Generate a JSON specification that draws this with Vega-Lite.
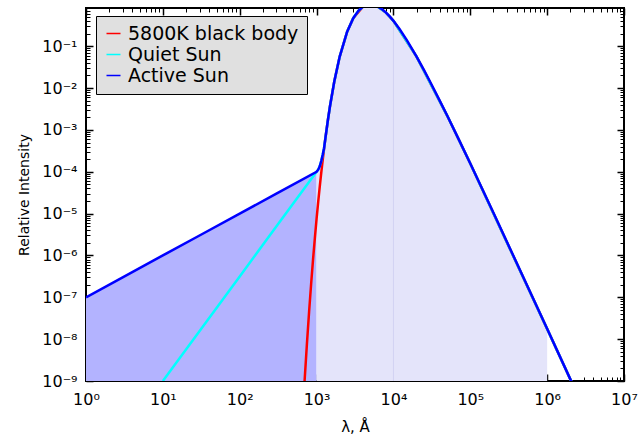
{
  "$schema": "https://vega.github.io/schema/vega-lite/v6.json",
  "autosize": "none",
  "width": 538,
  "height": 373,
  "padding": {"left": 86, "top": 8, "right": 14, "bottom": 57},
  "background": "#ffffff",
  "config": {
    "view": {"stroke": "#000000", "strokeWidth": 2},
    "axis": {
      "domain": false,
      "grid": false,
      "tickColor": "#000000",
      "labelFont": "DejaVu Sans",
      "labelFontSize": 15,
      "labelColor": "#000000",
      "titleFont": "DejaVu Sans",
      "titleFontSize": 14,
      "titleColor": "#000000",
      "titleFontWeight": "normal",
      "labelOverlap": false,
      "labelFlush": false
    },
    "legend": {"labelFont": "DejaVu Sans", "labelColor": "#000000"}
  },
  "datasets": {
    "spec": [
      {"series": "Active Sun", "lambda": 1, "intensity": 1e-7},
      {"series": "Active Sun", "lambda": 3, "intensity": 3e-7},
      {"series": "Active Sun", "lambda": 10, "intensity": 1e-6},
      {"series": "Active Sun", "lambda": 30, "intensity": 3e-6},
      {"series": "Active Sun", "lambda": 100, "intensity": 1e-5},
      {"series": "Active Sun", "lambda": 300, "intensity": 3e-5},
      {"series": "Active Sun", "lambda": 1000, "intensity": 1e-4},
      {"series": "Active Sun", "lambda": 1050, "intensity": 1.12e-4},
      {"series": "Active Sun", "lambda": 1100, "intensity": 1.35e-4},
      {"series": "Active Sun", "lambda": 1150, "intensity": 1.8e-4},
      {"series": "Active Sun", "lambda": 1200, "intensity": 2.5e-4},
      {"series": "Active Sun", "lambda": 1250, "intensity": 3.6e-4},
      {"series": "Active Sun", "lambda": 1300, "intensity": 6.16e-4},
      {"series": "Active Sun", "lambda": 1400, "intensity": 1.661e-3},
      {"series": "Active Sun", "lambda": 1500, "intensity": 3.833e-3},
      {"series": "Active Sun", "lambda": 1700, "intensity": 1.435e-2},
      {"series": "Active Sun", "lambda": 2000, "intensity": 0.0568},
      {"series": "Active Sun", "lambda": 2500, "intensity": 0.2224},
      {"series": "Active Sun", "lambda": 3000, "intensity": 0.4673},
      {"series": "Active Sun", "lambda": 3500, "intensity": 0.705},
      {"series": "Active Sun", "lambda": 4000, "intensity": 0.878},
      {"series": "Active Sun", "lambda": 4500, "intensity": 0.9725},
      {"series": "Active Sun", "lambda": 5000, "intensity": 1.0},
      {"series": "Active Sun", "lambda": 5500, "intensity": 0.978},
      {"series": "Active Sun", "lambda": 6000, "intensity": 0.9268},
      {"series": "Active Sun", "lambda": 7000, "intensity": 0.7843},
      {"series": "Active Sun", "lambda": 8000, "intensity": 0.637},
      {"series": "Active Sun", "lambda": 9000, "intensity": 0.5088},
      {"series": "Active Sun", "lambda": 10000, "intensity": 0.4045},
      {"series": "Active Sun", "lambda": 12000, "intensity": 0.2578},
      {"series": "Active Sun", "lambda": 15000, "intensity": 0.138},
      {"series": "Active Sun", "lambda": 20000, "intensity": 0.05634},
      {"series": "Active Sun", "lambda": 25000, "intensity": 0.02672},
      {"series": "Active Sun", "lambda": 30000, "intensity": 0.01417},
      {"series": "Active Sun", "lambda": 40000, "intensity": 0.005034},
      {"series": "Active Sun", "lambda": 50000, "intensity": 0.002206},
      {"series": "Active Sun", "lambda": 70000, "intensity": 6.196e-4},
      {"series": "Active Sun", "lambda": 100000, "intensity": 1.573e-4},
      {"series": "Active Sun", "lambda": 200000, "intensity": 1.048e-5},
      {"series": "Active Sun", "lambda": 500000, "intensity": 2.786e-7},
      {"series": "Active Sun", "lambda": 1000000, "intensity": 1.763e-8},
      {"series": "Active Sun", "lambda": 2000000, "intensity": 1.109e-9},
      {"series": "Active Sun", "lambda": 3000000, "intensity": 2.19e-10},

      {"series": "Quiet Sun", "lambda": 10, "intensity": 1e-9},
      {"series": "Quiet Sun", "lambda": 31.6, "intensity": 1.78e-8},
      {"series": "Quiet Sun", "lambda": 100, "intensity": 3.16e-7},
      {"series": "Quiet Sun", "lambda": 316, "intensity": 5.62e-6},
      {"series": "Quiet Sun", "lambda": 1000, "intensity": 1e-4},
      {"series": "Quiet Sun", "lambda": 1050, "intensity": 1.12e-4},
      {"series": "Quiet Sun", "lambda": 1100, "intensity": 1.35e-4},
      {"series": "Quiet Sun", "lambda": 1150, "intensity": 1.8e-4},
      {"series": "Quiet Sun", "lambda": 1200, "intensity": 2.5e-4},
      {"series": "Quiet Sun", "lambda": 1250, "intensity": 3.6e-4},
      {"series": "Quiet Sun", "lambda": 1300, "intensity": 6.16e-4},
      {"series": "Quiet Sun", "lambda": 1400, "intensity": 1.661e-3},
      {"series": "Quiet Sun", "lambda": 1500, "intensity": 3.833e-3},
      {"series": "Quiet Sun", "lambda": 1700, "intensity": 1.435e-2},
      {"series": "Quiet Sun", "lambda": 2000, "intensity": 0.0568},
      {"series": "Quiet Sun", "lambda": 2500, "intensity": 0.2224},
      {"series": "Quiet Sun", "lambda": 3000, "intensity": 0.4673},
      {"series": "Quiet Sun", "lambda": 3500, "intensity": 0.705},
      {"series": "Quiet Sun", "lambda": 4000, "intensity": 0.878},
      {"series": "Quiet Sun", "lambda": 5000, "intensity": 1.0},
      {"series": "Quiet Sun", "lambda": 6000, "intensity": 0.9268},
      {"series": "Quiet Sun", "lambda": 8000, "intensity": 0.637},
      {"series": "Quiet Sun", "lambda": 10000, "intensity": 0.4045},
      {"series": "Quiet Sun", "lambda": 20000, "intensity": 0.05634},
      {"series": "Quiet Sun", "lambda": 50000, "intensity": 0.002206},
      {"series": "Quiet Sun", "lambda": 100000, "intensity": 1.573e-4},
      {"series": "Quiet Sun", "lambda": 1000000, "intensity": 1.763e-8},
      {"series": "Quiet Sun", "lambda": 3000000, "intensity": 2.19e-10},

      {"series": "5800K black body", "lambda": 680, "intensity": 4.37e-10},
      {"series": "5800K black body", "lambda": 700, "intensity": 1.071e-9},
      {"series": "5800K black body", "lambda": 750, "intensity": 8.06e-9},
      {"series": "5800K black body", "lambda": 800, "intensity": 4.61e-8},
      {"series": "5800K black body", "lambda": 850, "intensity": 2.11e-7},
      {"series": "5800K black body", "lambda": 900, "intensity": 8.03e-7},
      {"series": "5800K black body", "lambda": 950, "intensity": 2.61e-6},
      {"series": "5800K black body", "lambda": 1000, "intensity": 7.46e-6},
      {"series": "5800K black body", "lambda": 1050, "intensity": 1.904e-5},
      {"series": "5800K black body", "lambda": 1100, "intensity": 4.417e-5},
      {"series": "5800K black body", "lambda": 1150, "intensity": 9.43e-5},
      {"series": "5800K black body", "lambda": 1200, "intensity": 1.87e-4},
      {"series": "5800K black body", "lambda": 1250, "intensity": 3.47e-4},
      {"series": "5800K black body", "lambda": 1300, "intensity": 6.157e-4},
      {"series": "5800K black body", "lambda": 1400, "intensity": 1.661e-3},
      {"series": "5800K black body", "lambda": 1500, "intensity": 3.833e-3},
      {"series": "5800K black body", "lambda": 1700, "intensity": 1.435e-2},
      {"series": "5800K black body", "lambda": 2000, "intensity": 0.0568},
      {"series": "5800K black body", "lambda": 2500, "intensity": 0.2224},
      {"series": "5800K black body", "lambda": 3000, "intensity": 0.4673},
      {"series": "5800K black body", "lambda": 4000, "intensity": 0.878},
      {"series": "5800K black body", "lambda": 5000, "intensity": 1.0},
      {"series": "5800K black body", "lambda": 6000, "intensity": 0.9268},
      {"series": "5800K black body", "lambda": 8000, "intensity": 0.637},
      {"series": "5800K black body", "lambda": 10000, "intensity": 0.4045},
      {"series": "5800K black body", "lambda": 20000, "intensity": 0.05634},
      {"series": "5800K black body", "lambda": 50000, "intensity": 0.002206},
      {"series": "5800K black body", "lambda": 100000, "intensity": 1.573e-4},
      {"series": "5800K black body", "lambda": 1000000, "intensity": 1.763e-8},
      {"series": "5800K black body", "lambda": 3000000, "intensity": 2.19e-10}
    ],
    "divider": [{"lambda": 10000, "bottom": 1e-9, "top": 0.4045}]
  },
  "data": {"name": "spec"},
  "resolve": {"axis": {"x": "independent", "y": "independent"}},
  "layer": [
    {
      "transform": [{"filter": "datum.series === 'Active Sun' && datum.lambda <= 1000"}],
      "mark": {"type": "area", "color": "#b3b3ff", "opacity": 1, "clip": true},
      "encoding": {
        "x": {
          "field": "lambda", "type": "quantitative",
          "scale": {"type": "log", "domain": [1, 10000000], "nice": false},
          "axis": {
            "orient": "bottom",
            "values": [1, 10, 100, 1000, 10000, 100000, 1000000, 10000000],
            "tickSize": -7, "tickWidth": 1.5, "labelPadding": 17, "labelFontSize": 16,
            "labelExpr": "'10' + ['⁰','¹','²','³','⁴','⁵','⁶','⁷','⁸','⁹'][round(log(datum.value)/LN10)]",
            "title": "λ, Å", "titlePadding": 12, "titleFontSize": 15
          }
        },
        "y": {
          "field": "intensity", "type": "quantitative",
          "scale": {"type": "log", "domain": [1e-9, 0.82], "nice": false},
          "axis": {
            "orient": "left",
            "values": [1e-9, 1e-8, 1e-7, 1e-6, 1e-5, 1e-4, 1e-3, 1e-2, 1e-1],
            "tickSize": -7, "tickWidth": 1.5, "labelPadding": 16, "labelFontSize": 16,
            "labelExpr": "'10⁻' + ['⁰','¹','²','³','⁴','⁵','⁶','⁷','⁸','⁹'][round(-log(datum.value)/LN10)]",
            "title": "Relative Intensity", "titlePadding": 10
          }
        },
        "y2": {"datum": 1e-9}
      }
    },
    {
      "transform": [{"filter": "datum.series === 'Active Sun' && datum.lambda >= 1000 && datum.lambda <= 1000000"}],
      "mark": {"type": "area", "color": "#e4e4fa", "opacity": 1, "clip": true},
      "encoding": {
        "x": {
          "field": "lambda", "type": "quantitative",
          "axis": {
            "orient": "bottom",
            "values": [2,3,4,5,6,7,8,9,20,30,40,50,60,70,80,90,200,300,400,500,600,700,800,900,2000,3000,4000,5000,6000,7000,8000,9000,20000,30000,40000,50000,60000,70000,80000,90000,200000,300000,400000,500000,600000,700000,800000,900000,2000000,3000000,4000000,5000000,6000000,7000000,8000000,9000000],
            "tickSize": -4, "tickWidth": 1, "labels": false, "title": null
          }
        },
        "y": {
          "field": "intensity", "type": "quantitative",
          "axis": {
            "orient": "left",
            "values": [2e-9,3e-9,4e-9,5e-9,6e-9,7e-9,8e-9,9e-9,2e-8,3e-8,4e-8,5e-8,6e-8,7e-8,8e-8,9e-8,2e-7,3e-7,4e-7,5e-7,6e-7,7e-7,8e-7,9e-7,2e-6,3e-6,4e-6,5e-6,6e-6,7e-6,8e-6,9e-6,2e-5,3e-5,4e-5,5e-5,6e-5,7e-5,8e-5,9e-5,2e-4,3e-4,4e-4,5e-4,6e-4,7e-4,8e-4,9e-4,2e-3,3e-3,4e-3,5e-3,6e-3,7e-3,8e-3,9e-3,2e-2,3e-2,4e-2,5e-2,6e-2,7e-2,8e-2,9e-2,0.2,0.3,0.4,0.5,0.6,0.7,0.8],
            "tickSize": -4, "tickWidth": 1, "labels": false, "title": null
          }
        },
        "y2": {"datum": 1e-9}
      }
    },
    {
      "data": {"name": "divider"},
      "mark": {"type": "rule", "color": "#d2d2f2", "strokeWidth": 1},
      "encoding": {
        "x": {"field": "lambda", "type": "quantitative", "axis": null},
        "y": {"field": "bottom", "type": "quantitative", "axis": null},
        "y2": {"field": "top"}
      }
    },
    {
      "transform": [{"filter": "datum.series === '5800K black body'"}],
      "mark": {"type": "line", "strokeWidth": 2.5, "clip": true},
      "encoding": {
        "x": {
          "field": "lambda", "type": "quantitative",
          "axis": {
            "orient": "top",
            "values": [1, 10, 100, 1000, 10000, 100000, 1000000, 10000000],
            "tickSize": -7, "tickWidth": 1.5, "labels": false, "title": null
          }
        },
        "y": {
          "field": "intensity", "type": "quantitative",
          "axis": {
            "orient": "right",
            "values": [1e-9, 1e-8, 1e-7, 1e-6, 1e-5, 1e-4, 1e-3, 1e-2, 1e-1],
            "tickSize": -7, "tickWidth": 1.5, "labels": false, "title": null
          }
        },
        "color": {
          "field": "series", "type": "nominal",
          "scale": {"domain": ["5800K black body", "Quiet Sun", "Active Sun"], "range": ["#ff0000", "#00ffff", "#0000ff"]},
          "legend": {
            "orient": "none", "legendX": 10, "legendY": 8,
            "title": null,
            "fillColor": "#e0e0e0", "strokeColor": "#000000",
            "padding": 8,
            "labelFontSize": 19, "labelOffset": 5, "rowPadding": 1, "labelLimit": 400,
            "symbolType": "stroke", "symbolSize": 196, "symbolStrokeWidth": 1.5
          }
        },
        "order": {"field": "lambda"}
      }
    },
    {
      "transform": [{"filter": "datum.series === 'Quiet Sun'"}],
      "mark": {"type": "line", "strokeWidth": 2.5, "clip": true},
      "encoding": {
        "x": {
          "field": "lambda", "type": "quantitative",
          "axis": {
            "orient": "top",
            "values": [2,3,4,5,6,7,8,9,20,30,40,50,60,70,80,90,200,300,400,500,600,700,800,900,2000,3000,4000,5000,6000,7000,8000,9000,20000,30000,40000,50000,60000,70000,80000,90000,200000,300000,400000,500000,600000,700000,800000,900000,2000000,3000000,4000000,5000000,6000000,7000000,8000000,9000000],
            "tickSize": -4, "tickWidth": 1, "labels": false, "title": null
          }
        },
        "y": {
          "field": "intensity", "type": "quantitative",
          "axis": {
            "orient": "right",
            "values": [2e-9,3e-9,4e-9,5e-9,6e-9,7e-9,8e-9,9e-9,2e-8,3e-8,4e-8,5e-8,6e-8,7e-8,8e-8,9e-8,2e-7,3e-7,4e-7,5e-7,6e-7,7e-7,8e-7,9e-7,2e-6,3e-6,4e-6,5e-6,6e-6,7e-6,8e-6,9e-6,2e-5,3e-5,4e-5,5e-5,6e-5,7e-5,8e-5,9e-5,2e-4,3e-4,4e-4,5e-4,6e-4,7e-4,8e-4,9e-4,2e-3,3e-3,4e-3,5e-3,6e-3,7e-3,8e-3,9e-3,2e-2,3e-2,4e-2,5e-2,6e-2,7e-2,8e-2,9e-2,0.2,0.3,0.4,0.5,0.6,0.7,0.8],
            "tickSize": -4, "tickWidth": 1, "labels": false, "title": null
          }
        },
        "color": {"field": "series", "type": "nominal"},
        "order": {"field": "lambda"}
      }
    },
    {
      "transform": [{"filter": "datum.series === 'Active Sun'"}],
      "mark": {"type": "line", "strokeWidth": 2.5, "clip": true},
      "encoding": {
        "x": {"field": "lambda", "type": "quantitative", "axis": null},
        "y": {"field": "intensity", "type": "quantitative", "axis": null},
        "color": {"field": "series", "type": "nominal"},
        "order": {"field": "lambda"}
      }
    }
  ]
}
